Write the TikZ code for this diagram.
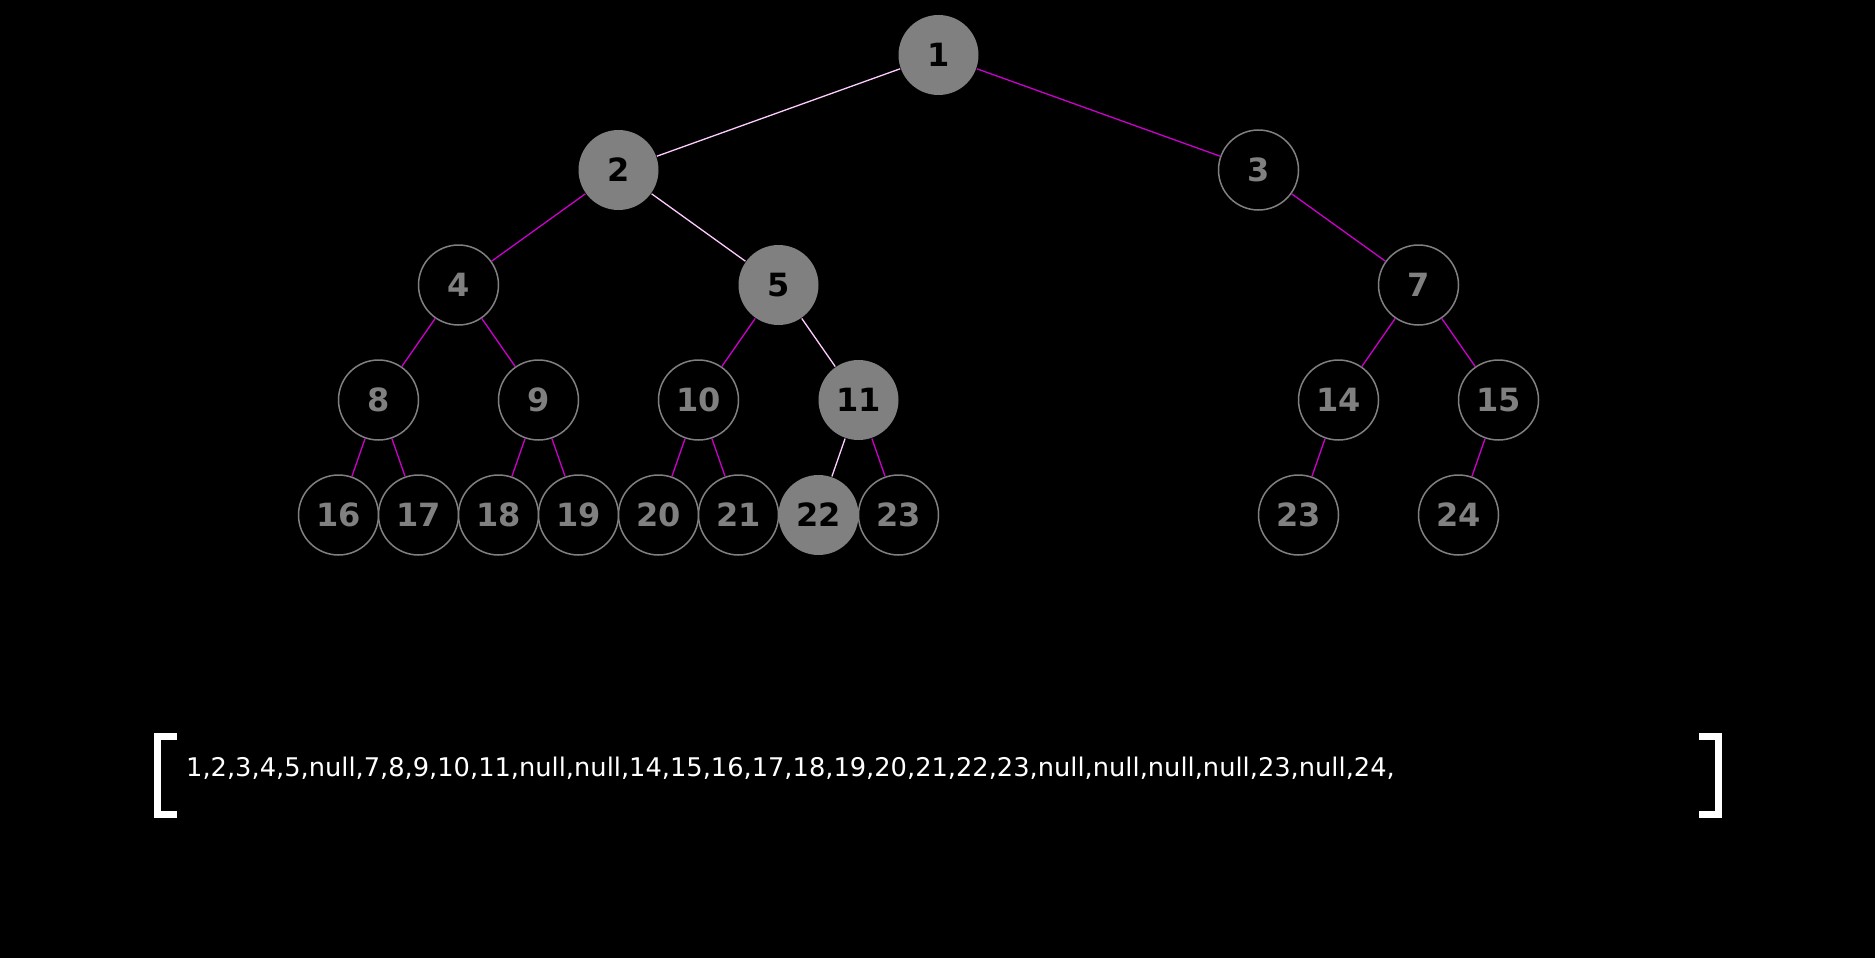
\documentclass[tikz,border=0pt]{standalone}
\usepackage{fontspec}
\setmainfont{DejaVu Sans}
\definecolor{nodegray}{RGB}{128,128,128}
\definecolor{edgemag}{RGB}{204,0,204}
\definecolor{edgelight}{RGB}{255,204,255}
\begin{document}
\begin{tikzpicture}[x=1pt,y=-1pt,
  tnode/.style={circle,minimum size=80pt,inner sep=0pt,line width=1.5pt,
    text height=23pt,text depth=0pt,
    font=\fontsize{32}{32}\selectfont\bfseries},
  plain/.style={tnode,draw=nodegray,fill=black,text=nodegray},
  hot/.style={tnode,fill=nodegray,text=black},
  medge/.style={draw=edgemag,line width=1.3pt},
  ledge/.style={draw=edgelight,line width=1.3pt},
  brk/.style={draw=white,line width=7pt}]
\fill[black] (0,0) rectangle (1875,958);
\useasboundingbox (0,0) rectangle (1875,958);
% nodes
\node[hot]   (n1)  at (938.5,55) {1};
\node[hot]   (n2)  at (618.5,170) {2};
\node[plain] (n3)  at (1258.5,170) {3};
\node[plain] (n4)  at (458.5,285) {4};
\node[hot]   (n5)  at (778.5,285) {5};
\node[plain] (n7)  at (1418.5,285) {7};
\node[plain] (n8)  at (378.5,400) {8};
\node[plain] (n9)  at (538.5,400) {9};
\node[plain] (n10) at (698.5,400) {10};
\node[hot]   (n11) at (858.5,400) {11};
\node[plain] (n14) at (1338.5,400) {14};
\node[plain] (n15) at (1498.5,400) {15};
\node[plain] (n16) at (338.5,515) {16};
\node[plain] (n17) at (418.5,515) {17};
\node[plain] (n18) at (498.5,515) {18};
\node[plain] (n19) at (578.5,515) {19};
\node[plain] (n20) at (658.5,515) {20};
\node[plain] (n21) at (738.5,515) {21};
\node[hot]   (n22) at (818.5,515) {22};
\node[plain] (n23) at (898.5,515) {23};
\node[plain] (n23b) at (1298.5,515) {23};
\node[plain] (n24) at (1458.5,515) {24};
% edges
\draw[ledge] (n1) -- (n2);
\draw[medge] (n1) -- (n3);
\draw[medge] (n2) -- (n4);
\draw[ledge] (n2) -- (n5);
\draw[medge] (n3) -- (n7);
\draw[medge] (n4) -- (n8);
\draw[medge] (n4) -- (n9);
\draw[medge] (n5) -- (n10);
\draw[ledge] (n5) -- (n11);
\draw[medge] (n7) -- (n14);
\draw[medge] (n7) -- (n15);
\draw[medge] (n8) -- (n16);
\draw[medge] (n8) -- (n17);
\draw[medge] (n9) -- (n18);
\draw[medge] (n9) -- (n19);
\draw[medge] (n10) -- (n20);
\draw[medge] (n10) -- (n21);
\draw[ledge] (n11) -- (n22);
\draw[medge] (n11) -- (n23);
\draw[medge] (n14) -- (n23b);
\draw[medge] (n15) -- (n24);
% array
\node[anchor=base west,text=white,inner sep=0pt,font=\fontsize{25.7}{25.7}\selectfont] (arr) at (186,776)
 {1,2,3,4,5,null,7,8,9,10,11,null,null,14,15,16,17,18,19,20,21,22,23,null,null,null,null,23,null,24,};
\coordinate (lbt) at (177,736.5);
\coordinate (lbb) at (177,814.5);
\draw[brk,line cap=butt] (lbt) -- ++(-20,0) -- ++(0,78) -- (lbb);
\coordinate (rbt) at (1699,736.5);
\coordinate (rbb) at (1699,814.5);
\draw[brk,line cap=butt] (rbt) -- ++(19,0) -- ++(0,78) -- (rbb);
\end{tikzpicture}
\end{document}
